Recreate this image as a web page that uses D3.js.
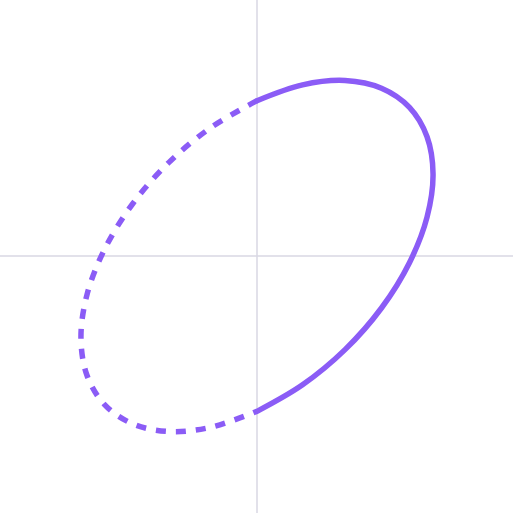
<!DOCTYPE html>
<html><head><meta charset="utf-8">
<script src="https://cdn.jsdelivr.net/npm/d3@7"></script>
<style>html,body{margin:0;padding:0;background:#fff;}svg{display:block;}</style>
</head><body>
<script>
// Points (data units), solid part x >= 0, dashed part x <= 0
const solidX = [0, 0.2588, 0.5, 0.7071, 0.866, 0.9659, 1, 0.9659, 0.866, 0.7071, 0.5, 0.2588, 0];
const solidY = [-0.884, -0.733, -0.533, -0.296, -0.038, 0.221, 0.466, 0.679, 0.846, 0.955, 0.999, 0.974, 0.884];
const dashX = [0, -0.2588, -0.5, -0.7071, -0.866, -0.9659, -1, -0.9659, -0.866, -0.7071, -0.5, -0.2588, 0];
const dashY = [0.884, 0.733, 0.533, 0.296, 0.038, -0.221, -0.466, -0.679, -0.846, -0.955, -0.999, -0.974, -0.884];

const W = 513, H = 513;
const svg = d3.select("body").append("svg").attr("width", W).attr("height", H);
const x = d3.scaleLinear().domain([-1.457, 1.457]).range([0.5, 513.5]);
const y = d3.scaleLinear().domain([-1.457, 1.457]).range([512, 0]);

svg.append("line").attr("x1", 0).attr("x2", W).attr("y1", y(0)).attr("y2", y(0))
  .attr("stroke", "#d9d7e3").attr("stroke-width", 1.5);
svg.append("line").attr("x1", x(0)).attr("x2", x(0)).attr("y1", 0).attr("y2", H)
  .attr("stroke", "#d9d7e3").attr("stroke-width", 1.5);

const line = d3.line().x(d => x(d[0])).y(d => y(d[1])).curve(d3.curveCatmullRom.alpha(0.5));
const solid = solidX.map((v, i) => [v, solidY[i]]);
const dashed = dashX.map((v, i) => [v, dashY[i]]);

svg.append("path").attr("d", line(dashed)).attr("fill", "none")
  .attr("stroke", "#8b5cf6").attr("stroke-width", 5.5).attr("stroke-dasharray", "10,10");
svg.append("path").attr("d", line(solid)).attr("fill", "none")
  .attr("stroke", "#8b5cf6").attr("stroke-width", 5.5).attr("stroke-linecap", "round");
</script>
</body></html>
